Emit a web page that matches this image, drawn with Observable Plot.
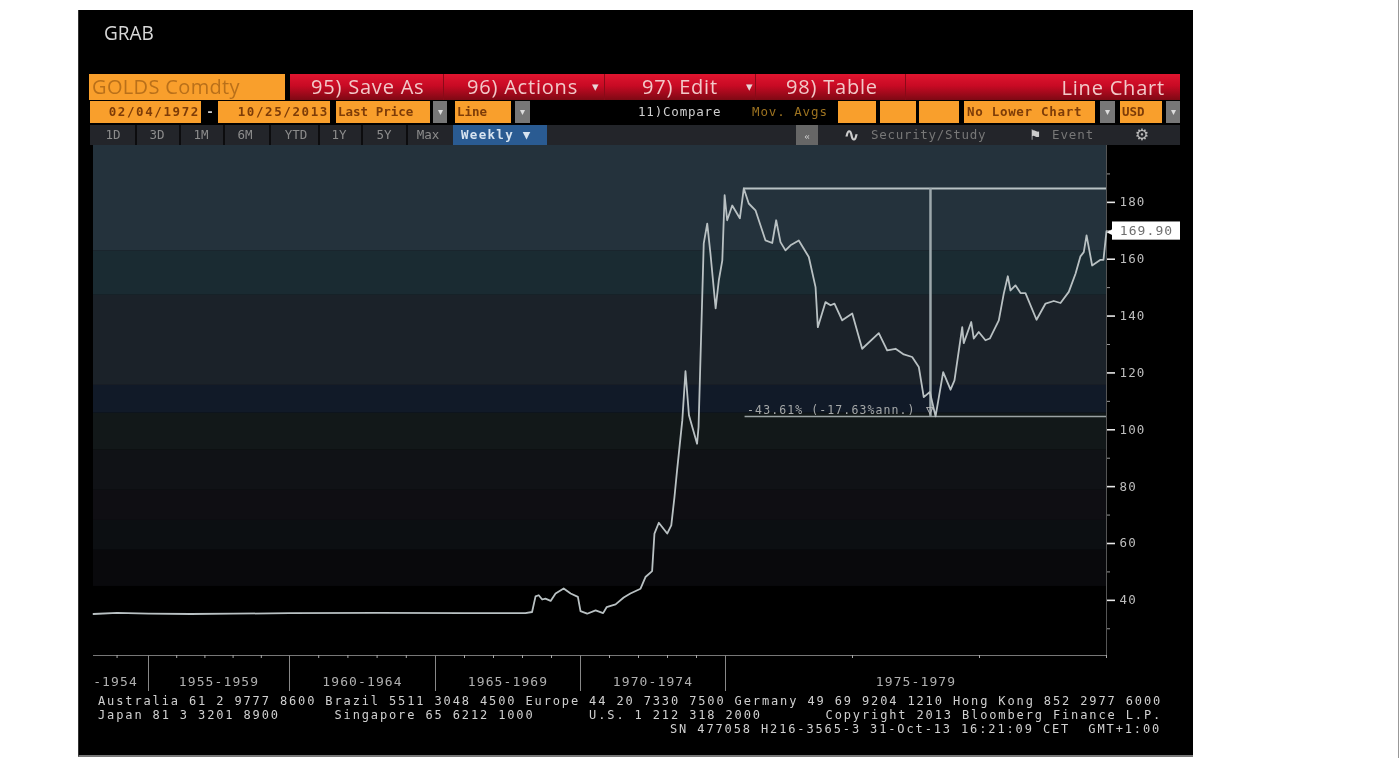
<!DOCTYPE html>
<html><head><meta charset="utf-8">
<script src="https://cdn.jsdelivr.net/npm/d3@7"></script>
<script src="https://cdn.jsdelivr.net/npm/@observablehq/plot@0.6"></script>
<style>
html,body{margin:0;padding:0;background:#fff;width:1400px;height:758px;overflow:hidden}
#page{position:relative;width:1400px;height:758px;overflow:hidden;filter:blur(.75px)}
#panel{position:absolute;left:78px;top:10px;width:1114px;height:745px;background:#000;border-bottom:2px solid #777;border-left:1px solid #333}
#edge{position:absolute;left:1398px;top:0;width:1px;height:758px;background:#999}
#plot{position:absolute;left:0;top:145px}
.b{position:absolute;white-space:pre;box-sizing:border-box;overflow:hidden}
</style></head><body>
<div id="page"><div id="panel"></div><div id="edge"></div><div id="plot"></div></div>
<script>
// ---- data ----
const times = [1953.25,1954,1955,1956.5,1958,1960,1963,1966,1968.1,1968.33,1968.45,1968.56,1968.68,1968.79,1968.97,1969.14,1969.42,1969.66,1969.91,1970,1970.23,1970.52,1970.78,1970.9,1971.21,1971.49,1971.72,1972.07,1972.24,1972.47,1972.55,1972.7,1972.99,1973.13,1973.24,1973.33,1973.51,1973.62,1973.74,1974.02,1974.07,1974.25,1974.37,1974.48,1974.66,1974.77,1974.89,1974.97,1975.013,1975.053,1975.113,1975.144,1975.183,1975.236,1975.315,1975.368,1975.399,1975.433,1975.472,1975.512,1975.577,1975.656,1975.709,1975.727,1975.787,1975.827,1975.858,1975.919,1975.998,1976.076,1976.207,1976.273,1976.339,1976.404,1976.47,1976.522,1976.561,1976.609,1976.654,1976.714,1976.772,1976.803,1976.864,1976.876,1976.935,1976.955,1976.994,1977.047,1977.081,1977.152,1977.191,1977.223,1977.244,1977.283,1977.323,1977.362,1977.449,1977.52,1977.585,1977.638,1977.703,1977.756,1977.795,1977.821,1977.843,1977.887,1977.953,1977.976,1978];
const prices = [35.2,35.6,35.3,35.2,35.3,35.5,35.6,35.5,35.5,35.9,41.4,41.8,40.3,40.6,39.8,42.4,44.2,42.4,41.2,36.2,35.3,36.5,35.5,37.6,38.6,41,42.4,44.1,48.2,50.3,63.5,67.3,63.5,66.4,76.3,85.7,103.3,120.6,105.1,95.1,100.9,165.6,172.5,162.1,142.7,152.6,159.6,182.5,173.7,178.9,174.4,184.9,179.6,177.2,166.6,165.7,173.7,166,163.1,164.9,166.6,160.8,150.2,136.1,144.9,143.8,144.4,138.5,140.9,128.5,134,127.9,128.5,126.5,125.6,122.1,111.5,113.3,104.7,120.3,114.1,117.4,136.1,130.5,137.9,132.1,134.4,131.5,132.1,138.5,147.9,154,149,150.8,148.1,148.1,138.7,144.4,145.3,144.6,148.5,154.9,161,162.5,168.4,157.8,159.8,159.8,169.9];
const lastPrice = 169.9, highPrice = 184.9, lowPrice = 104.7, highTime = 1975.144, spanTime = 1976.614;
const drawdownLabel = "-43.61% (-17.63%ann.)";
const yTicksMajor = [40,60,80,100,120,140,160,180];
const yTicksMinor = [30,50,70,90,110,130,150,170,190];
const yearTicks = d3.range(1954,1979);
const periodEdges = [1955,1960,1965,1970,1975];
const periodLabels = ["-1954","1955-1959","1960-1964","1965-1969","1970-1974","1975-1979"];
const periodMids = [1953.95,1957.5,1962.5,1967.5,1972.5,1976.5];
const bandEdges = [200,162.8,147.3,115.6,105.8,92.8,78.7,68.1,57.6,44.9];
const bandFills = ["#24323c","#1a2b32","#1b2229","#111a28","#121819","#101216","#0f0e13","#0c0f12","#09090c"];
const bands = bandFills.map((fill,i)=>({top:bandEdges[i],bottom:bandEdges[i+1],fill}));
const series = times.map((t,i)=>({t,p:prices[i]}));
const footerLines = [
 "Australia 61 2 9777 8600 Brazil 5511 3048 4500 Europe 44 20 7330 7500 Germany 49 69 9204 1210 Hong Kong 852 2977 6000",
 "Japan 81 3 3201 8900      Singapore 65 6212 1000      U.S. 1 212 318 2000       Copyright 2013 Bloomberg Finance L.P.",
 "SN 477058 H216-3565-3 31-Oct-13 16:21:09 CET  GMT+1:00"];

// ---- chart ----
const mono = "'DejaVu Sans Mono',monospace";
const chart = Plot.plot({
  width:1400, height:560,
  marginLeft:93, marginRight:294, marginTop:0, marginBottom:50,
  style:{background:"transparent",fontFamily:mono,overflow:"visible",letterSpacing:"1.1px"},
  x:{type:"linear",domain:[1953.25,1955,1960,1965,1970,1975,1978],range:[93,148,289,435,580,725,1106]},
  y:{domain:[20.6,200],range:[510,0]},
  marks:[
    Plot.rectY(bands,{x1:1953.25,x2:1978,y1:"bottom",y2:"top",fill:d=>d.fill}),
    Plot.ruleX([1978],{stroke:"#555",strokeWidth:1}),
    Plot.ruleY([20.6],{stroke:"#777",strokeWidth:1}),
    Plot.axisY({anchor:"right",ticks:yTicksMinor,tickSize:3,tickFormat:()=>"",stroke:"#999",label:null}),
    Plot.axisY({anchor:"right",ticks:yTicksMajor,tickSize:8,tickPadding:5,stroke:"#e8e8e8",strokeWidth:1.6,fill:"#bdbdbd",fontSize:12.5,tickFormat:d=>String(d),label:null}),
    Plot.axisX({anchor:"bottom",ticks:yearTicks,tickSize:3,tickFormat:()=>"",stroke:"#aaa",label:null}),
    Plot.axisX({anchor:"bottom",ticks:periodEdges,tickSize:36,tickFormat:()=>"",stroke:"#888",label:null}),
    Plot.text(periodLabels,{x:(d,i)=>periodMids[i],text:d=>d,frameAnchor:"bottom",dy:30,fill:"#b0b0b0",fontSize:13,fontFamily:mono}),
    // drawdown study
    Plot.ruleY([highPrice],{x1:highTime,x2:1978,stroke:"#b8c2c4",strokeWidth:2}),
    Plot.ruleY([lowPrice],{x1:highTime+0.01,x2:1978,stroke:"#9aa2a4",strokeWidth:1.5}),
    Plot.ruleX([spanTime],{y1:lowPrice,y2:highPrice,stroke:"#9da8ac",strokeWidth:2.5}),
    Plot.text([drawdownLabel],{x:1975.17,y:lowPrice,text:d=>d,textAnchor:"start",dy:-6,fill:"#a5a8a8",fontSize:11.5,fontFamily:mono}),
    Plot.text(["▽"],{x:spanTime,y:lowPrice,text:d=>d,dy:-7,fill:"#bbb",fontSize:13}),
    // price
    Plot.line(series,{x:"t",y:"p",stroke:"#b9c1c3",strokeWidth:1.8,strokeLinejoin:"round"}),
    // last-value flag
    Plot.rectY([lastPrice],{x1:1978,x2:1978,y1:d=>d-3.2,y2:d=>d+3.2,fill:"#fff",insetLeft:6,insetRight:-74}),
    Plot.text(["◀"],{x:[1978],y:[lastPrice],text:d=>d,dx:4,fill:"#fff",fontSize:11}),
    Plot.text([lastPrice],{x:1978,y:d=>d,text:d=>d.toFixed(2),dx:40,fill:"#6f6f6f",fontSize:13,fontFamily:mono})
  ]
});
d3.select(chart).selectAll("text").filter(function(){return !this.textContent.trim();}).remove();
document.getElementById("plot").append(chart);

// ---- Bloomberg terminal chrome and footer (HTML) ----
const page = document.getElementById("page");
function box(text,l,t,w,h,css={}){
  const d=document.createElement("div");d.className="b";d.textContent=text;
  Object.assign(d.style,css,{left:l+"px",top:t+"px",width:w+"px",height:h+"px",lineHeight:h+"px"});
  page.append(d);return d;
}
const sans="'Open Sans',sans-serif";
const ORANGE="#f99f2c",BROWN="#7d3c08",RED="linear-gradient(#e0152f 0%,#c80a24 45%,#7e0914 100%)";
box("GRAB",104,20,80,26,{font:`20px ${sans}`,color:"#d8d8d8",transform:"scaleX(.95)",transformOrigin:"left"});
// row 1
const r1={color:"#f2c9c9",font:`20px ${sans}`,letterSpacing:".8px"};
box("GOLDS Comdty",89,74,196,26,{background:ORANGE,color:"#b9701a",font:`20px ${sans}`,letterSpacing:".35px",paddingLeft:"3px"});
box("",290,74,890,26,{background:RED});
[["95) Save As",311],["96) Actions",467],["97) Edit",642],["98) Table",786]].forEach(([s,x])=>box(s,x,74,170,26,r1));
[588,742].forEach(x=>box("▾",x,74,14,26,{color:"#e8d8d8",fontSize:"13px",textAlign:"center"}));
box("Line Chart",960,75,205,26,{...r1,textAlign:"right"});
[443,604,755,905].forEach(x=>box("",x,74,1,26,{background:"#8a0a18"}));
// row 2
const r2={font:`bold 12.5px ${mono}`,color:BROWN};
const arrow={background:"#777",color:"#ddd",fontSize:"10px",textAlign:"center"};
box("02/04/1972",90,101,111,22,{...r2,letterSpacing:"1.6px",background:ORANGE,textAlign:"right",paddingRight:"1px"});
box("-",204,101,12,22,{...r2,color:"#ccc",textAlign:"center"});
box("10/25/2013",218,101,112,22,{...r2,letterSpacing:"1.6px",background:ORANGE,textAlign:"right",paddingRight:"1px"});
box("Last Price",336,101,94,22,{...r2,background:ORANGE,paddingLeft:"2px"});
box("▾",433,101,14,22,arrow);
box("Line",455,101,56,22,{...r2,background:ORANGE,paddingLeft:"2px"});
box("▾",515,101,15,22,arrow);
box("11)Compare",638,101,96,22,{font:`12.5px ${mono}`,color:"#cfcfcf",letterSpacing:".8px"});
box("Mov. Avgs",752,101,84,22,{font:`12.5px ${mono}`,color:"#9c7220",letterSpacing:".9px"});
[[838,38],[880,36],[919,40]].forEach(([x,w])=>box("",x,101,w,22,{background:ORANGE}));
box("No Lower Chart",964,101,131,22,{...r2,letterSpacing:".7px",background:ORANGE,paddingLeft:"3px"});
box("▾",1100,101,15,22,arrow);
box("USD",1120,101,42,22,{...r2,background:ORANGE,paddingLeft:"2px"});
box("▾",1166,101,14,22,arrow);
// row 3
box("",90,125,1090,20,{background:"#23252a"});
[["1D",113],["3D",157],["1M",201],["6M",245],["YTD",296],["1Y",339],["5Y",384],["Max",428]].forEach(([s,x])=>
  box(s,x-22,125,44,20,{font:`12.5px ${mono}`,color:"#8c8c8c",textAlign:"center"}));
[135,179,223,269,318,361,406].forEach(x=>box("",x,125,2,20,{background:"#0c0c0e"}));
box("Weekly ▼",453,125,94,20,{background:"#2a5b92",font:`bold 12.5px ${mono}`,color:"#d8e4f0",paddingLeft:"8px",letterSpacing:"1.3px"});
box("«",796,125,22,20,{background:"#666",color:"#ccc",fontSize:"11px",textAlign:"center"});
box("∿",840,125,22,20,{color:"#ccc",font:`bold 18px ${mono}`,textAlign:"center"});
box("Security/Study",871,125,120,20,{font:`12.5px ${mono}`,color:"#777",letterSpacing:"0.7px"});
box("⚑",1026,125,18,20,{color:"#ccc",fontSize:"14px",textAlign:"center",fontFamily:"'DejaVu Sans'"});
box("Event",1052,125,50,20,{font:`12.5px ${mono}`,color:"#777",letterSpacing:"0.9px"});
box("⚙",1133,125,18,20,{color:"#bbb",fontSize:"16px",textAlign:"center",fontFamily:"'DejaVu Sans'"});
// footer
const foot={font:`12px ${mono}`,color:"#d0d0d0",letterSpacing:"1.87px"};
box(footerLines[0],98,694,1075,14,foot);
box(footerLines[1],98,708,1075,14,foot);
box(footerLines[2],670,722,500,14,{...foot,letterSpacing:"1.87px"});
</script>
</body></html>
